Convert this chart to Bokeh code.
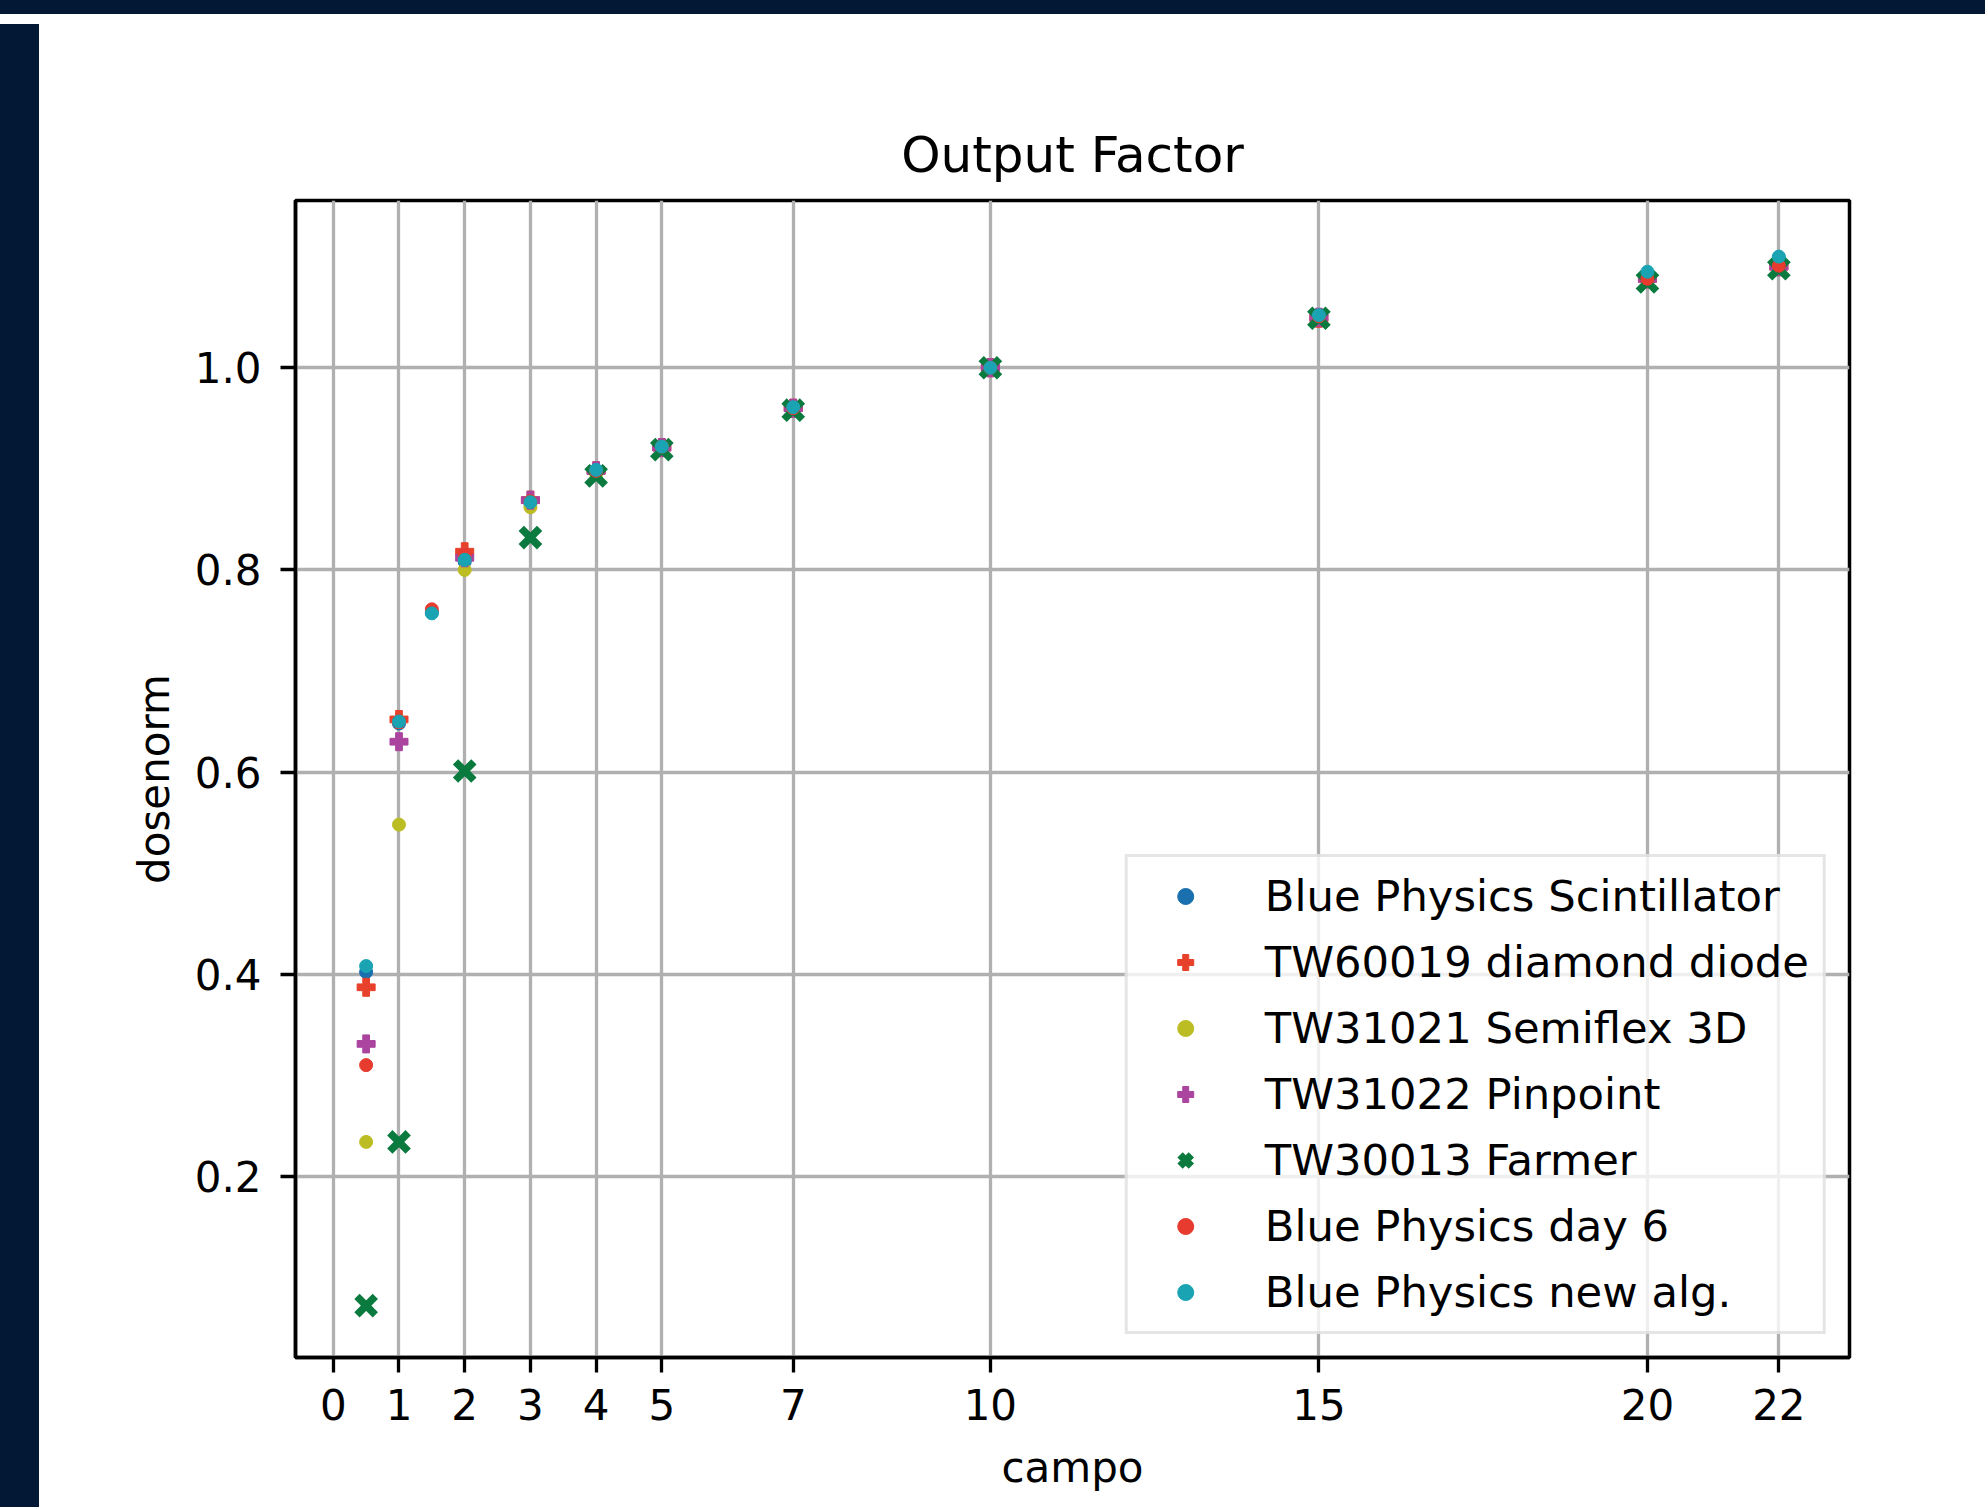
import numpy as np
from bokeh.plotting import figure
from bokeh.models import FixedTicker, PrintfTickFormatter, Range1d, Div
from bokeh.layouts import column, row
from bokeh.embed import file_html
from bokeh.resources import INLINE

# ---------------- data ----------------
x_tick_values = [0, 1, 2, 3, 4, 5, 7, 10, 15, 20, 22]
y_tick_values = [0.2, 0.4, 0.6, 0.8, 1.0]

scint_x = [0.5, 1, 1.5, 2, 3, 4, 5, 7, 10, 15, 20, 22]
scint_y = [0.402, 0.648, 0.758, 0.808, 0.866, 0.897, 0.920, 0.958, 1.0, 1.050, 1.092, 1.108]

diamond_x = [0.5, 1, 2, 3, 4, 5, 7, 10, 15, 20, 22]
diamond_y = [0.387, 0.652, 0.818, 0.869, 0.898, 0.921, 0.960, 1.0, 1.049, 1.088, 1.100]

semiflex_x = [0.5, 1, 2, 3, 4, 5, 7, 10, 15, 20, 22]
semiflex_y = [0.234, 0.548, 0.800, 0.862, 0.895, 0.919, 0.959, 1.0, 1.050, 1.087, 1.101]

pinpoint_x = [0.5, 1, 2, 3, 4, 5, 7, 10, 15, 20, 22]
pinpoint_y = [0.331, 0.630, 0.812, 0.869, 0.898, 0.921, 0.960, 1.0, 1.050, 1.088, 1.100]

farmer_x = [0.5, 1, 2, 3, 4, 5, 7, 10, 15, 20, 22]
farmer_y = [0.072, 0.234, 0.601, 0.832, 0.893, 0.919, 0.958, 1.0, 1.049, 1.085, 1.098]

day6_x = [0.5, 1, 1.5, 2, 3, 4, 5, 7, 10, 15, 20, 22]
day6_y = [0.310, 0.650, 0.761, 0.815, 0.868, 0.898, 0.922, 0.960, 1.0, 1.051, 1.088, 1.101]

newalg_x = [0.5, 1, 1.5, 2, 3, 4, 5, 7, 10, 15, 20, 22]
newalg_y = [0.408, 0.650, 0.757, 0.810, 0.867, 0.899, 0.922, 0.961, 1.0, 1.052, 1.095, 1.110]

labels = ["Blue Physics Scintillator", "TW60019 diamond diode", "TW31021 Semiflex 3D",
          "TW31022 Pinpoint", "TW30013 Farmer", "Blue Physics day 6", "Blue Physics new alg."]
colors = ["#1a6faf", "#e8412b", "#bcbd22", "#aa449f", "#0a7a3e", "#e63b2e", "#1aa3b3"]

FONT = "DejaVu Sans"
DARK = "#021835"

p = figure(width=1946, height=1483, output_backend="svg", toolbar_location=None,
           x_range=Range1d(-0.575, 23.075), y_range=Range1d(0.0207, 1.1655),
           title="Output Factor",
           min_border_left=251, min_border_right=141, min_border_top=181, min_border_bottom=145)
p.background_fill_color = "white"
p.border_fill_color = "white"
p.outline_line_color = "black"
p.outline_line_width = 3.5

p.title.text_font = FONT
p.title.text_font_size = "50px"
p.title.text_font_style = "normal"
p.title.text_color = "black"
p.title.align = "center"
p.title.standoff = 34

for ax in (p.xaxis[0], p.yaxis[0]):
    ax.axis_line_color = "black"
    ax.axis_line_width = 3.5
    ax.major_tick_line_color = "black"
    ax.major_tick_line_width = 3.3
    ax.major_tick_out = 15
    ax.major_tick_in = 0
    ax.minor_tick_line_color = None
    ax.major_label_text_font = FONT
    ax.major_label_text_font_size = "42px"
    ax.major_label_text_color = "black"
    ax.axis_label_text_font = FONT
    ax.axis_label_text_font_size = "42px"
    ax.axis_label_text_font_style = "normal"
    ax.axis_label_text_color = "black"

p.xaxis[0].ticker = FixedTicker(ticks=x_tick_values)
p.xaxis[0].formatter = PrintfTickFormatter(format="%d")
p.xaxis[0].major_label_standoff = 16
p.xaxis[0].axis_label = "campo"
p.xaxis[0].axis_label_standoff = 20

p.yaxis[0].ticker = FixedTicker(ticks=y_tick_values)
p.yaxis[0].formatter = PrintfTickFormatter(format="%.1f")
p.yaxis[0].major_label_standoff = 19
p.yaxis[0].axis_label = "dosenorm"
p.yaxis[0].axis_label_standoff = 13

p.xgrid[0].ticker = FixedTicker(ticks=x_tick_values)
p.ygrid[0].ticker = FixedTicker(ticks=y_tick_values)
for g in (p.xgrid[0], p.ygrid[0]):
    g.grid_line_color = "#b0b0b0"
    g.grid_line_width = 3.3

series = [
    (scint_x, scint_y, "circle", 13, 1),
    (diamond_x, diamond_y, "plus", 18, 1),
    (semiflex_x, semiflex_y, "circle", 13, 1),
    (pinpoint_x, pinpoint_y, "plus", 18, 1),
    (farmer_x, farmer_y, "x", 26, 7.5),
    (day6_x, day6_y, "circle", 13, 1),
    (newalg_x, newalg_y, "circle", 13, 1),
]
for (xs, ys, mk, sz, lw), lab, col in zip(series, labels, colors):
    p.scatter(xs, ys, marker=mk, size=sz, fill_color=col, line_color=col,
              line_width=lw, legend_label=lab)

lg = p.legend[0]
lg.location = "bottom_right"
lg.margin = 23
lg.padding = 14
lg.spacing = 16
lg.glyph_width = 87
lg.glyph_height = 40
lg.label_height = 50
lg.label_standoff = 36
lg.label_text_font = FONT
lg.label_text_font_size = "43.3px"
lg.label_text_color = "black"
lg.border_line_color = "#cccccc"
lg.border_line_width = 3
lg.background_fill_color = "white"
lg.background_fill_alpha = 0.8

top_bar = Div(text="", width=1988, height=17, styles={"background-color": DARK})
left_bar = Div(text="", width=42, height=1483, styles={"background-color": DARK})
layout = column(top_bar, row(left_bar, p, spacing=0), spacing=0,
                styles={"margin-left": "-8px", "margin-top": "-8px"})

open("out.html", "w").write(file_html(layout, INLINE))
